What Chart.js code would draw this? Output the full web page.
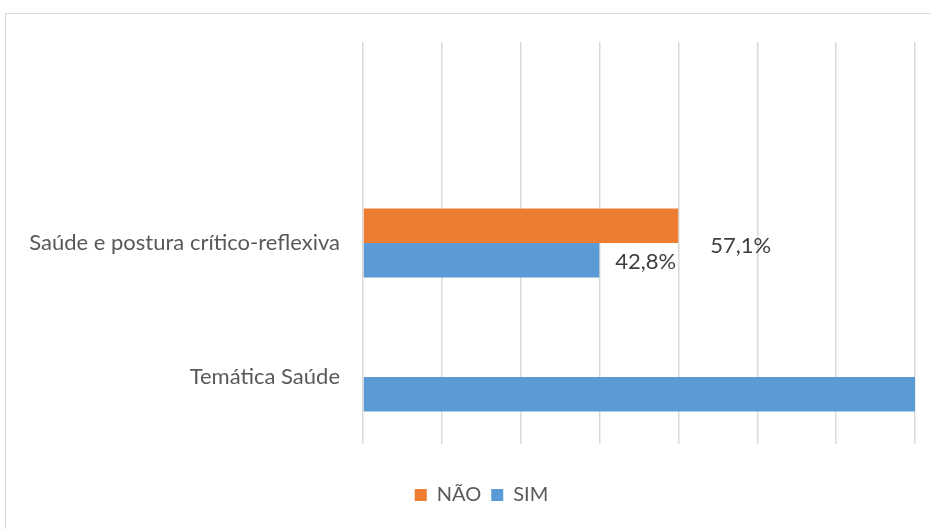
<!DOCTYPE html>
<html>
<head>
<meta charset="utf-8">
<script src="https://cdn.jsdelivr.net/npm/chart.js@4/dist/chart.umd.min.js"></script>
<style>
  html, body { margin: 0; padding: 0; background: #fff; overflow: hidden; }
  #wrap { position: relative; width: 931px; height: 529px; }
  #frame { position: absolute; left: 5px; top: 13px; width: 960px; height: 560px; border: 1px solid #d9d9d9; box-sizing: border-box; }
  canvas { position: absolute; left: 0; top: 0; }
</style>
</head>
<body>
<div id="wrap">
  <div id="frame"></div>
  <canvas id="c" width="931" height="529"></canvas>
</div>
<script>
const categories = ["", "Saúde e postura crítico-reflexiva", "Temática Saúde"];
const seriesNames = ["NÃO", "SIM"];
const naoValues = [null, 57.1, 0];
const simValues = [null, 42.8, 100];
const tickCount = 8;

const fmt = v => v.toFixed(1).replace('.', ',') + '%';

// label offsets (manually placed labels in the original)
const labelOffsets = {
  "0-1": { dx: 32, dy: 20 },
  "1-1": { dx: 16, dy: 2 }
};

const labelPlugin = {
  id: 'valueLabels',
  afterDatasetsDraw(chart) {
    const ctx = chart.ctx;
    ctx.save();
    ctx.font = '22px Lato, "Open Sans", sans-serif';
    ctx.fillStyle = '#404040';
    ctx.textAlign = 'left';
    ctx.textBaseline = 'middle';
    chart.data.datasets.forEach((ds, di) => {
      const meta = chart.getDatasetMeta(di);
      meta.data.forEach((bar, i) => {
        const key = di + '-' + i;
        const off = labelOffsets[key];
        if (!off) return;
        const v = ds.data[i];
        if (v == null) return;
        ctx.fillText(fmt(v), bar.x + off.dx, bar.y + off.dy);
      });
    });
    ctx.restore();
  }
};

const legendShift = {
  id: 'legendShift',
  afterLayout(chart) {
    if (chart.legend) { chart.legend.left += 24; chart.legend.right += 24; }
  }
};

new Chart(document.getElementById('c'), {
  type: 'bar',
  data: {
    labels: categories,
    datasets: [
      { label: seriesNames[0], data: naoValues, backgroundColor: '#ED7D31', borderWidth: 0 },
      { label: seriesNames[1], data: simValues, backgroundColor: '#5B9BD5', borderWidth: 0 }
    ]
  },
  options: {
    indexAxis: 'y',
    responsive: false,
    animation: false,
    devicePixelRatio: 1,
    layout: { padding: { left: 0, right: 16, top: 42, bottom: 14 } },
    datasets: { bar: { categoryPercentage: 0.514, barPercentage: 1 } },
    scales: {
      x: {
        min: 0, max: 100,
        ticks: { display: false, count: tickCount },
        grid: { color: '#d9d9d9', lineWidth: 1.5, drawTicks: false },
        border: { display: false },
        afterFit(scale) { scale.height = 31; }
      },
      y: {
        ticks: { color: '#595959', font: { family: 'Lato, "Open Sans", sans-serif', size: 22 }, padding: 23 },
        grid: { display: false, drawTicks: false },
        border: { display: false },
        afterFit(scale) { scale.width = 363; }
      }
    },
    plugins: {
      legend: {
        position: 'bottom',
        labels: {
          boxWidth: 12, boxHeight: 12, padding: 10,
          color: '#595959',
          font: { family: 'Lato, "Open Sans", sans-serif', size: 20 }
        }
      },
      tooltip: { enabled: false }
    }
  },
  plugins: [labelPlugin, legendShift]
});
</script>
</body>
</html>
